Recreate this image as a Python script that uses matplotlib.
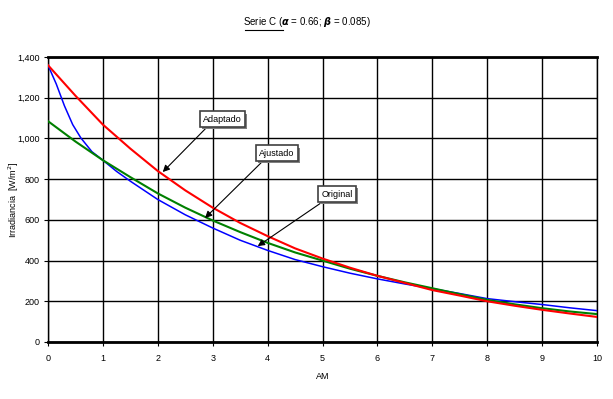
import numpy as np
import matplotlib
matplotlib.use('Agg')
import matplotlib.pyplot as plt
import matplotlib.patheffects as pe

plt.rcParams['font.family'] = ['Liberation Sans', 'DejaVu Sans']

# datos
am_red = [0, 0.5, 1, 1.5, 2, 2.5, 3, 3.5, 4, 4.5, 5, 5.5, 6, 6.5, 7, 7.5, 8, 8.5, 9, 9.5, 10]
adaptado = [1360, 1210, 1068, 950, 840, 745, 660, 585, 520, 460, 410, 365, 325, 290, 255, 228, 200, 178, 158, 140, 123]

am_green = am_red
ajustado = [1085, 985, 893, 810, 730, 660, 597, 540, 487, 440, 400, 360, 325, 293, 264, 235, 207, 185, 166, 150, 137]

am_blue = [0, 0.15, 0.3, 0.45, 0.6, 0.8, 1, 1.25, 1.5, 2, 2.5, 3, 3.5, 4, 4.5, 5, 5.5, 6, 6.5, 7, 7.5, 8, 8.5, 9, 9.5, 10]
original = [1360, 1268, 1160, 1068, 1002, 935, 893, 838, 790, 700, 625, 560, 500, 450, 405, 370, 338, 310, 285, 262, 238, 213, 198, 184, 168, 154]

yticks = [0, 200, 400, 600, 800, 1000, 1200, 1400]
ylabels = ['0', '200', '400', '600', '800', '1,000', '1,200', '1,400']
xticks = list(range(11))

fig = plt.figure(figsize=(6.13, 3.99), dpi=100)
ax = fig.add_axes([0.0783, 0.1429, 0.8957, 0.7141])

ax.plot(am_blue, original, color='#0000ff', lw=1.1, zorder=3)
ax.plot(am_green, ajustado, color='#008000', lw=1.5, zorder=4)
ax.plot(am_red, adaptado, color='#ff0000', lw=1.5, zorder=5)

ax.set_xlim(0, 10)
ax.set_ylim(0, 1400)
ax.set_xticks(xticks)
ax.set_yticks(yticks)
ax.set_yticklabels(ylabels)
ax.tick_params(labelsize=6.5, length=3, width=0.8, color='black', direction='out', pad=3)
ax.tick_params(axis='x', pad=6)
ax.grid(True, color='black', lw=1)
ax.set_axisbelow(True)
for s in ['top', 'bottom']:
    ax.spines[s].set_linewidth(2)
for s in ['left', 'right']:
    ax.spines[s].set_linewidth(1)

ax.set_xlabel('AM', fontsize=6.5)
ax.xaxis.set_label_coords(0.5, -0.105)
ax.set_ylabel('Irradiancia  [W/m$^2$]', fontsize=6.5)
ax.yaxis.set_label_coords(-0.05, 0.5)

# titulo
fig.text(0.5, 0.945, r'Serie C ($\boldsymbol{\alpha}$ = 0.66; $\boldsymbol{\beta}$ = 0.085)',
         ha='center', va='center', fontsize=7)
fig.add_artist(plt.Line2D([0.400, 0.462], [0.925, 0.925], color='black', lw=0.8))

# etiquetas con flechas
notes = [('Adaptado', (2.09, 835), (3.17, 1095)),
         ('Ajustado', (2.86, 609), (4.17, 928)),
         ('Original', (3.82, 471), (5.26, 727))]
for txt, tip, box in notes:
    t = ax.annotate(txt, xy=tip, xytext=box, fontsize=6.5, ha='center', va='center', zorder=10,
                    bbox=dict(boxstyle='square,pad=0.35', fc='white', ec='#404040', lw=1.2),
                    arrowprops=dict(arrowstyle='-|>', color='black', lw=0.8, mutation_scale=10,
                                    relpos=(0.2, 0), shrinkA=0, shrinkB=0))
    t.get_bbox_patch().set_path_effects([pe.SimplePatchShadow(offset=(1.5, -1.5), shadow_rgbFace='#808080', alpha=1),
                                         pe.Normal()])

fig.savefig('out.png', dpi=100)
